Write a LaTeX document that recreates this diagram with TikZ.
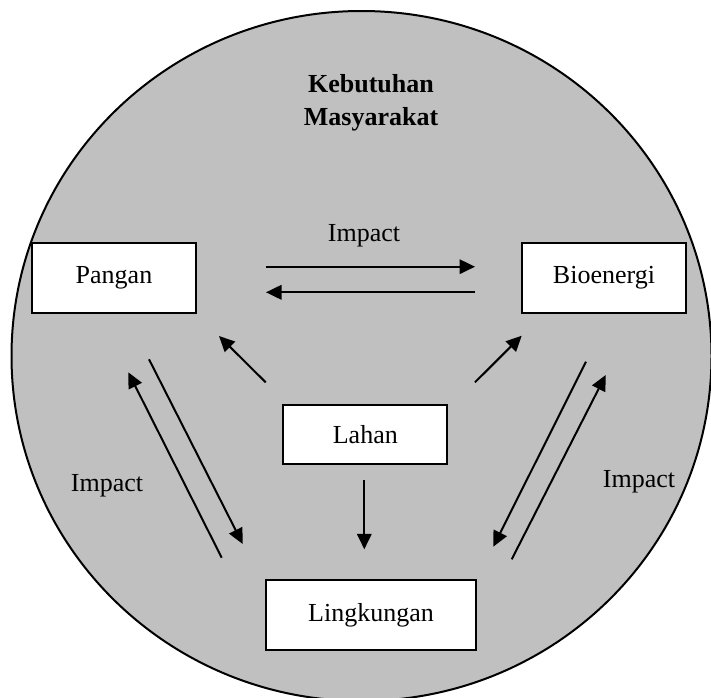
\documentclass[tikz,border=0pt]{standalone}
\usepackage{fontspec}
\setmainfont{Liberation Serif}
\usetikzlibrary{arrows.meta}
\begin{document}
\begin{tikzpicture}[x=1pt,y=-1pt,
  label text/.style={font=\fontsize{26}{32}\selectfont},
  box/.style={draw=black,line width=2pt,fill=white,inner sep=0pt,
    font=\fontsize{26}{32}\selectfont},
  link/.style={line width=2pt,-{Triangle[length=15.5pt,width=14.5pt]}}]
  \useasboundingbox (0,0) rectangle (711,697);
  % outer community-needs circle
  \begin{scope}
    \clip (0,0) rectangle (711,697);
    \draw[line width=2pt,fill={rgb,255:red,192;green,192;blue,192}]
      (361.5,356) ellipse [x radius=350,y radius=345];
  \end{scope}
  \node[font=\bfseries\fontsize{26}{33}\selectfont,align=center] (needs) at (371,103)
    {Kebutuhan\\Masyarakat};

  % boxes
  \node[box,minimum width=164pt,minimum height=70pt] (pangan) at (114,278) {Pangan};
  \node[box,minimum width=164pt,minimum height=70pt] (bio) at (604,278) {Bioenergi};
  \node[box,minimum width=164pt,minimum height=59pt] (lahan) at (365.3,434.3) {Lahan};
  \node[box,minimum width=210pt,minimum height=70pt] (lingk) at (371,615) {Lingkungan};

  % labels
  \node[label text] (imptop) at (364,236) {Impact};
  \node[label text] (impleft) at (107,486) {Impact};
  \node[label text] (impright) at (639,482) {Impact};

  % arrow end points
  \coordinate (pb1) at (265.7,266.7);
  \coordinate (pb2) at (475,266.7);
  \coordinate (bp1) at (475,292.3);
  \coordinate (bp2) at (266,292.3);
  \coordinate (lp1) at (265.7,382.3);
  \coordinate (lp2) at (219,336);
  \coordinate (lb1) at (475,382.3);
  \coordinate (lb2) at (521.7,335.7);
  \coordinate (ll1) at (364.3,480);
  \coordinate (ll2) at (364.3,549.3);
  \coordinate (pl1) at (149,359.3);
  \coordinate (pl2) at (242.7,544);
  \coordinate (lpa1) at (221.7,557.7);
  \coordinate (lpa2) at (128.3,372.3);
  \coordinate (bl1) at (586,361.7);
  \coordinate (bl2) at (493.3,546.7);
  \coordinate (lba1) at (511.7,559.3);
  \coordinate (lba2) at (605.7,375);

  % connectors
  \draw[link] (pb1) -- (pb2);
  \draw[link] (bp1) -- (bp2);
  \draw[link] (lp1) -- (lp2);
  \draw[link] (lb1) -- (lb2);
  \draw[link] (ll1) -- (ll2);
  \draw[link] (pl1) -- (pl2);
  \draw[link] (lpa1) -- (lpa2);
  \draw[link] (bl1) -- (bl2);
  \draw[link] (lba1) -- (lba2);
\end{tikzpicture}
\end{document}
